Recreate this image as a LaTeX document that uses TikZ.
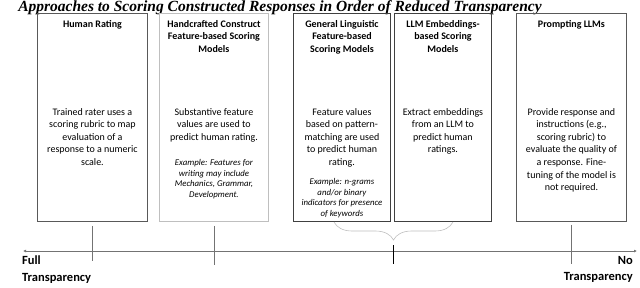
\documentclass[tikz,border=0pt]{standalone}
\usepackage{fontspec}
\setmainfont{Carlito}
\newfontfamily\titlefont{Liberation Serif}
\usetikzlibrary{arrows.meta,positioning,decorations.pathreplacing}

\begin{document}
\begin{tikzpicture}[
  x=1pt, y=1pt,
  font=\fontsize{10}{12.6}\selectfont,
  box/.style={draw=black!65, line width=0.9pt, minimum height=208pt, inner sep=0pt, anchor=north west},
  head/.style={align=center, inner sep=0pt, font=\fontsize{10}{12.6}\selectfont\bfseries},
  body/.style={align=center, inner sep=0pt},
  example/.style={align=center, inner sep=0pt, font=\fontsize{8.8}{10.8}\selectfont\itshape},
  axislabel/.style={inner sep=0pt, font=\fontsize{12.5}{16.5}\selectfont\bfseries},
  tick/.style={draw=black!55, line width=0.6pt},
  arrow/.style={{Latex[length=3pt,width=3pt]}-{Latex[length=3pt,width=3pt]}, draw=black!55, line width=0.7pt}
]
\useasboundingbox (0,0) rectangle (640,-287);

\node[inner sep=0pt, anchor=base, font=\titlefont\fontsize{15.5}{18}\selectfont\bfseries\itshape] (title) at (280,-11)
  {Approaches to Scoring Constructed Responses in Order of Reduced Transparency};

% the five approaches
\node[box, minimum width=110pt] (human) at (37,-13) {};
\node[box, minimum width=109pt, draw=black!25] (craft) at (159,-13) {};
\node[box, minimum width=97pt, draw=black!75] (ling) at (293,-13) {};
\node[box, minimum width=97pt, draw=black!75] (embed) at (394,-13) {};
\node[box, minimum width=110pt] (prompt) at (516,-13) {};

\node[head, below=7pt of human.north] (humanhead) {Human Rating};
\node[head, below=7pt of craft.north] (crafthead) {Handcrafted Construct\\Feature-based Scoring\\Models};
\node[head, below=7pt of ling.north] (linghead) {General Linguistic\\Feature-based\\Scoring Models};
\node[head, below=7pt of embed.north] (embedhead) {LLM Embeddings-\\based Scoring\\Models};
\node[head, below=7pt of prompt.north] (prompthead) {Prompting LLMs};

\node[body, below=95pt of human.north] (humantext)
  {Trained rater uses a\\scoring rubric to map\\evaluation of a\\response to a numeric\\scale.};
\node[body, below=95pt of craft.north] (crafttext)
  {Substantive feature\\values are used to\\predict human rating.};
\node[body, below=95pt of ling.north] (lingtext)
  {Feature values\\based on pattern-\\matching are used\\to predict human\\rating.};
\node[body, below=95pt of embed.north] (embedtext)
  {Extract embeddings\\from an LLM to\\predict human\\ratings.};
\node[body, below=95pt of prompt.north] (prompttext)
  {Provide response and\\instructions (e.g.,\\scoring rubric) to\\evaluate the quality of\\a response. Fine-\\tuning of the model is\\not required.};

\node[example, below=146pt of craft.north] (craftex)
  {Example: Features for\\writing may include\\Mechanics, Grammar,\\Development.};
\node[example, below=165pt of ling.north] (lingex)
  {Example: n-grams\\and/or binary\\indicators for presence\\of keywords};

% transparency axis
\coordinate (axl) at (23,-251);
\coordinate (axr) at (637,-251);
\draw[arrow] (axl) -- (axr);

\coordinate (bl) at (334,-222);
\coordinate (br) at (453,-222);
\draw[draw=black!25, line width=0.6pt, decorate, decoration={brace, mirror, amplitude=18pt}] (bl) -- (br);

\draw[tick] ([yshift=-4pt]human.south) -- ++(0,-35);
\draw[tick] ([yshift=-4pt]craft.south) -- ++(0,-39);
\draw[black, line width=0.9pt] (393.5,-245) -- ++(0,-19);
\draw[tick] ([yshift=-3pt]prompt.south) -- ++(0,-39);

\node[axislabel, align=left, anchor=north west] (full) at (22,-256) {Full\\Transparency};
\node[axislabel, align=right, anchor=north east] (none) at (633,-256) {No\\Transparency};
\end{tikzpicture}
\end{document}
